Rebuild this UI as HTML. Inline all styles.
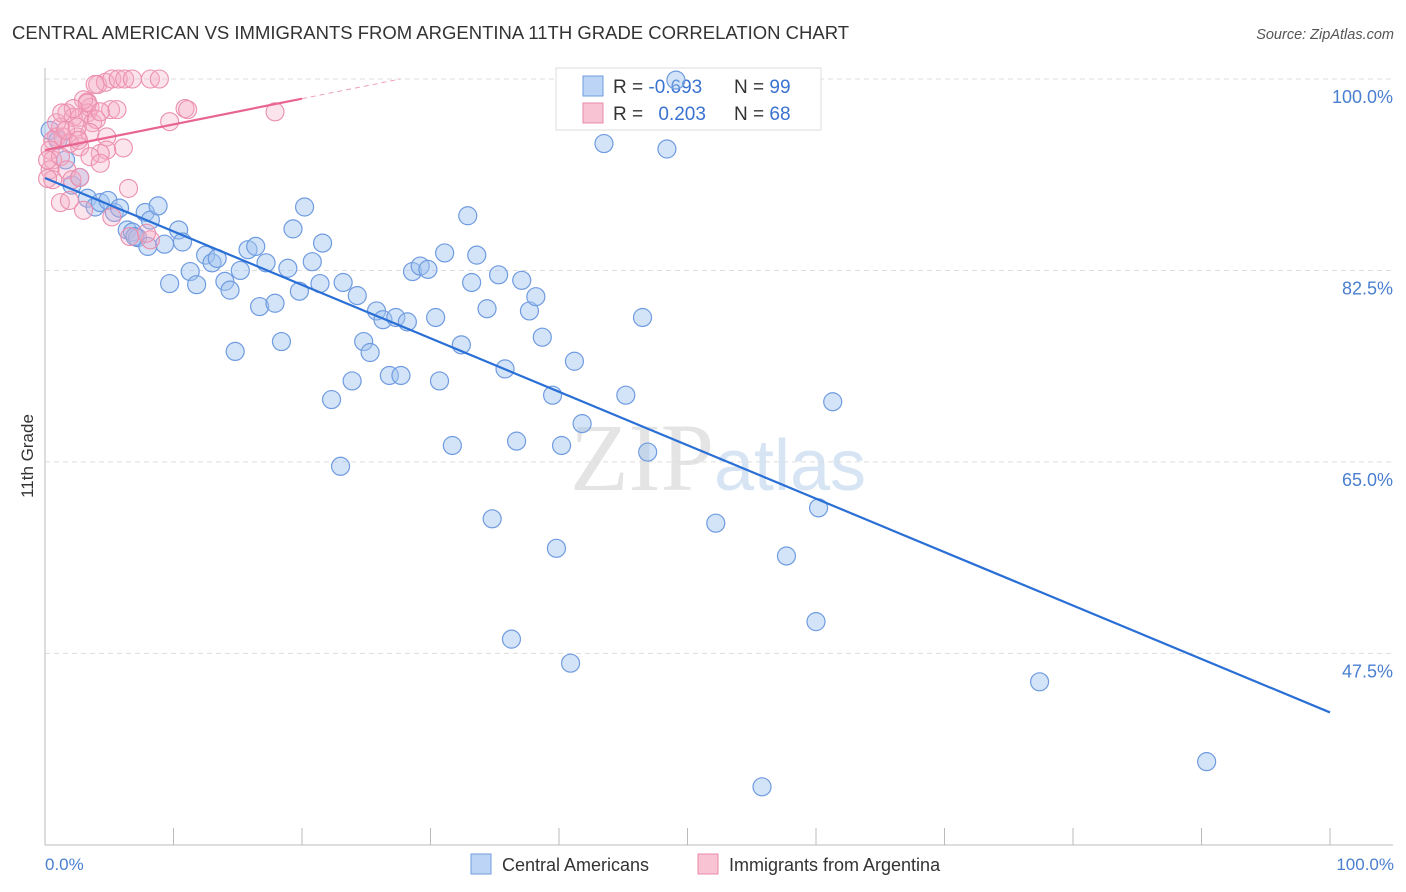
<!DOCTYPE html>
<html><head><meta charset="utf-8"><style>
body{margin:0;background:#fff;font-family:"Liberation Sans",sans-serif}
</style></head><body>
<svg id="chart" width="1406" height="892" xmlns="http://www.w3.org/2000/svg" style="display:block">
<text x="12" y="39" font-size="18.5" fill="#333">CENTRAL AMERICAN VS IMMIGRANTS FROM ARGENTINA 11TH GRADE CORRELATION CHART</text>
<text x="1394" y="39" font-size="14.5" fill="#555" text-anchor="end" font-style="italic">Source: ZipAtlas.com</text>
<text x="718" y="490" font-size="96" fill="#e4e4e4" text-anchor="middle" font-family="Liberation Serif"><tspan>ZIP</tspan><tspan fill="#d6e4f3" font-family="Liberation Sans" font-size="72">atlas</tspan></text>
<g id="grid"></g>
<g id="axes"></g>
<g>
<rect x="556" y="68" width="265" height="62" fill="#fff" stroke="#ddd"/>
<rect x="583" y="76" width="20" height="20" fill="#bcd4f5" stroke="#6f9be0"/>
<rect x="583" y="103" width="20" height="20" fill="#f8c3d2" stroke="#e88aa8"/>
<text x="613" y="93" font-size="19" fill="#333">R = <tspan fill="#3a72d0">-0.693</tspan></text>
<text x="734" y="93" font-size="19" fill="#333">N = <tspan fill="#3a72d0">99</tspan></text>
<text x="613" y="120" font-size="19" fill="#333">R = <tspan fill="#3a72d0" dx="10">0.203</tspan></text>
<text x="734" y="120" font-size="19" fill="#333">N = <tspan fill="#3a72d0">68</tspan></text>
</g>
<g id="points"></g>
<g id="lines"></g>
<text transform="translate(33,456) rotate(-90)" font-size="17" fill="#333" text-anchor="middle">11th Grade</text>
<text x="45" y="870" font-size="17" fill="#4a7fd0">0.0%</text>
<text x="1394" y="870" font-size="17" fill="#4a7fd0" text-anchor="end">100.0%</text>
<g>
<rect x="471" y="854" width="20" height="20" fill="#bcd4f5" stroke="#6f9be0"/>
<text x="502" y="871" font-size="18" fill="#333">Central Americans</text>
<rect x="698" y="854" width="20" height="20" fill="#f8c3d2" stroke="#e88aa8"/>
<text x="729" y="871" font-size="18" fill="#333">Immigrants from Argentina</text>
</g>
</svg>
<script>
const yTicks=[100,82.5,65,47.5];
const yTickLabels=["100.0%","82.5%","65.0%","47.5%"];
const xTicks=[0,10,20,30,40,50,60,70,80,90,100];
const blueX=[0.4,1.0,1.6,2.1,2.7,3.3,3.9,4.3,4.9,5.4,5.8,6.4,6.8,7.2,7.8,8.2,8.8,9.3,10.4,10.7,9.7,11.3,11.8,12.5,13.0,13.4,14.0,14.4,15.2,15.8,16.4,17.2,16.7,17.9,18.9,19.3,19.8,20.2,20.8,21.4,21.6,23.2,24.3,25.8,26.3,27.3,28.2,28.6,29.2,29.8,30.4,31.1,32.9,33.2,33.6,34.4,35.3,37.1,37.7,38.2,38.7,41.2,43.5,46.5,48.4,49.1,24.8,25.3,18.4,14.8,23.9,22.3,26.8,27.7,30.7,32.4,35.8,39.5,41.8,45.2,61.3,23.0,31.7,36.7,40.2,46.9,34.8,39.8,52.2,57.7,60.2,36.3,40.9,60.0,77.4,90.4,55.8,8.0,7.0];
const blueY=[95.3,94.4,92.6,90.3,91.0,89.1,88.3,88.7,88.9,87.8,88.2,86.2,86.0,85.5,87.8,87.1,88.4,84.9,86.2,85.1,81.3,82.4,81.2,83.9,83.2,83.6,81.5,80.7,82.5,84.4,84.7,83.2,79.2,79.5,82.7,86.3,80.6,88.3,83.3,81.3,85.0,81.4,80.2,78.8,78.0,78.2,77.8,82.4,82.9,82.6,78.2,84.1,87.5,81.4,83.9,79.0,82.1,81.6,78.8,80.1,76.4,74.2,94.1,78.2,93.6,99.9,76.0,75.0,76.0,75.1,72.4,70.7,72.9,72.9,72.4,75.7,73.5,71.1,68.5,71.1,70.5,64.6,66.5,66.9,66.5,65.9,59.8,57.1,59.4,56.4,60.8,48.8,46.6,50.4,44.9,37.6,35.3,84.7,85.6];
const pinkX=[4.1,4.7,5.2,5.7,6.2,6.8,8.2,8.9,3.3,3.5,3.3,5.1,5.6,10.9,11.1,17.9,9.7,1.7,2.2,2.7,3.7,4.0,1.2,0.9,1.4,2.5,3.5,4.8,6.1,4.8,4.3,2.7,1.9,0.6,0.4,0.6,1.2,3.5,4.3,0.4,0.6,1.7,6.5,1.2,1.9,3.0,5.2,6.6,8.2,7.9,0.9,3.0,3.9,3.3,2.2,1.6,2.5,2.6,2.1,2.7,4.3,0.2,0.2,1.3];
const pinkY=[99.5,99.7,100,100,100,100,100,100,97.9,97.4,96.9,97.2,97.2,97.3,97.2,97.0,96.1,96.9,96.5,96.5,96.0,96.3,95.6,94.7,94.7,94.7,95.1,94.7,93.7,93.5,93.2,93.8,94.1,94.4,93.5,92.6,92.9,92.9,92.3,91.7,90.8,91.7,90.0,88.7,88.9,88.0,87.4,85.6,85.3,85.9,96.0,98.1,99.5,97.8,97.3,95.3,95.6,94.4,90.8,91.0,97.0,92.6,90.9,96.9];
const blueTrend=[90.95,42.1];
const pinkTrend=[93.5,98.2];
const pinkTrendEnd=20;

const NS="http://www.w3.org/2000/svg";
const X=v=>45+v*12.85;
const Y=v=>79+(100-v)*10.94;
function mk(tag,attrs,parent){const e=document.createElementNS(NS,tag);for(const k in attrs)e.setAttribute(k,attrs[k]);document.getElementById(parent).appendChild(e);return e;}
yTicks.forEach((t,i)=>{
  const g=mk('line',{x1:45,x2:1393,y1:Y(t),y2:Y(t),stroke:'#ddd','stroke-dasharray':'5,4'},'grid');
  
  
  const l=mk('text',{x:1393,y:Y(t)+24,'font-size':18,fill:'#4a7fd0','text-anchor':'end'},'grid');
  l.textContent=yTickLabels[i];
  
  
});
const ax=mk('line',{x1:45,x2:45,y1:68,y2:845,stroke:'#bbb'},'axes');


const bx=mk('line',{x1:45,x2:1393,y1:845,y2:845,stroke:'#bbb'},'axes');


xTicks.forEach(t=>{
  const tk=mk('line',{x1:X(t),x2:X(t),y1:828,y2:845,stroke:'#bbb'},'axes');
  
  
});
blueX.forEach((v,i)=>{
  const c=mk('circle',{cx:X(v),cy:Y(blueY[i]),r:9,fill:'rgba(160,196,240,0.45)',stroke:'#6f9be0','stroke-width':1.2},'points');
  
  
});
pinkX.forEach((v,i)=>{
  const c=mk('circle',{cx:X(v),cy:Y(pinkY[i]),r:9,fill:'rgba(246,170,195,0.32)',stroke:'#eb8fae','stroke-width':1.1},'points');
  
  
});
const bl=mk('line',{x1:X(0),y1:Y(blueTrend[0]),x2:X(100),y2:Y(blueTrend[1]),stroke:'#2a6fd6','stroke-width':2.2},'lines');


const slope=(pinkTrend[1]-pinkTrend[0])/pinkTrendEnd;
const pl=mk('line',{x1:X(0),y1:Y(pinkTrend[0]),x2:X(pinkTrendEnd),y2:Y(pinkTrend[1]),stroke:'#e8658f','stroke-width':2.2},'lines');


const xe=pinkTrendEnd+(100-pinkTrend[1])/slope;
const pd=mk('line',{x1:X(pinkTrendEnd),y1:Y(pinkTrend[1]),x2:X(xe),y2:Y(100),stroke:'#eea0b8','stroke-width':1,'stroke-dasharray':'5,4'},'lines');


</script>
</body></html>
